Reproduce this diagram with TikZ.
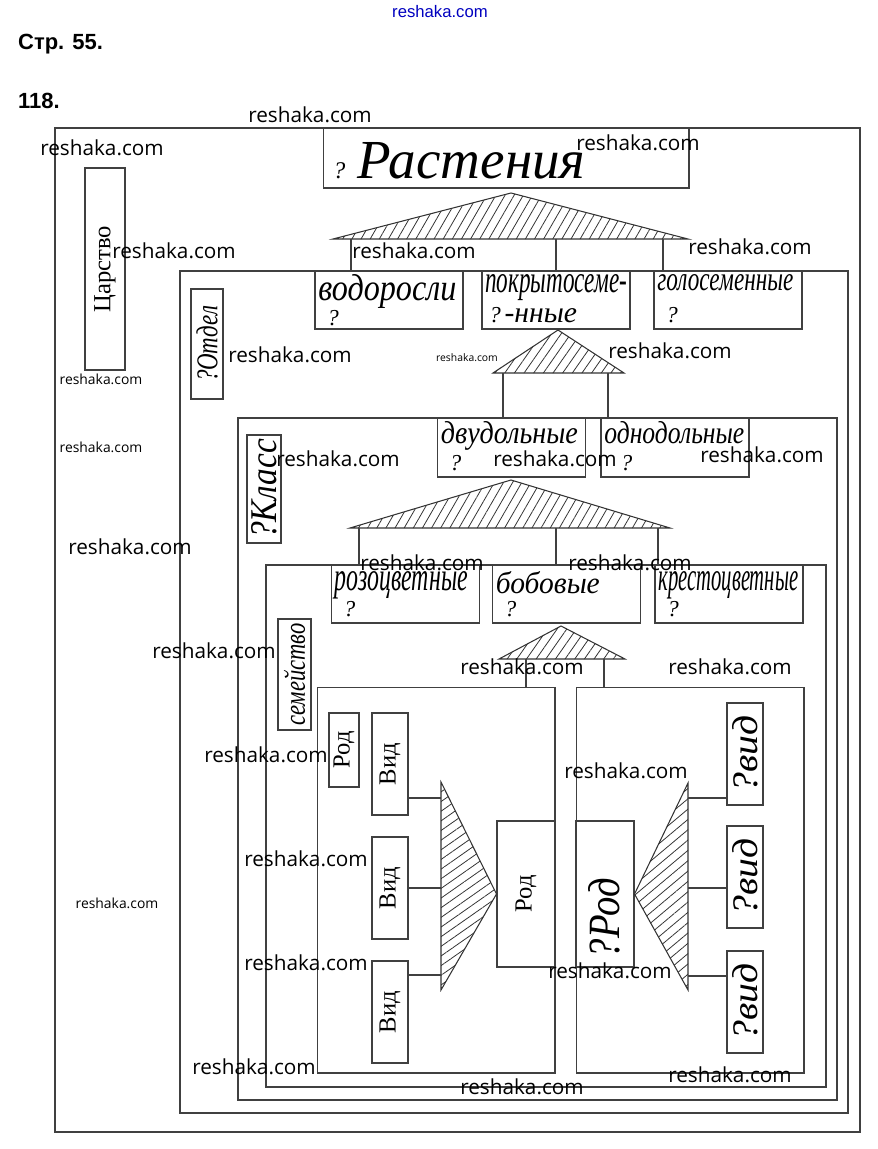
\documentclass[tikz,border=0pt]{standalone}
\usepackage{fontspec}
\usepackage{graphicx}
\setmainfont{Liberation Serif}
\newfontfamily\headfont{Liberation Sans}
\newfontfamily\wmfont{Open Sans}
\usetikzlibrary{patterns.meta}

\newcommand{\hw}[2]{\resizebox{#1cm}{!}{\itshape #2}}
\newcommand{\hwh}[3]{\resizebox{#1cm}{#2cm}{\itshape #3}}

\tikzset{
    frame/.style={draw=black!75, line width=0.6pt},
    box/.style={draw=black!75, line width=0.6pt, inner sep=0pt},
    taxon/.style={box, minimum width=2.96cm, minimum height=1.16cm},
    vidbox/.style={box, minimum width=0.72cm, minimum height=2.04cm, font=\fontsize{14}{14}\selectfont},
    hatch/.style={draw=black!80, line width=0.6pt, pattern color=black!80,
        pattern={Lines[angle=#1, distance=4.5pt, line width=0.45pt]}},
    hand/.style={anchor=north west, inner sep=2pt},
    q/.style={anchor=south west, inner sep=0pt, xshift=0.25cm, yshift=0.12cm,
        font=\itshape\fontsize{13}{13}\selectfont},
    head/.style={anchor=west, font=\headfont\bfseries\fontsize{12.5}{13}\selectfont},
    wm/.style={font=\wmfont\fontsize{11.8}{12}\selectfont},
    wms/.style={font=\wmfont\fontsize{7.9}{8}\selectfont}
}

\begin{document}
\begin{tikzpicture}[x=0.02cm, y=-0.02cm]
    \useasboundingbox (0,0) rectangle (877,1149);

    % header
    \node[head] (page) at (12,44) {Стр. 55.};
    \node[head] (task) at (12,101) {118.};

    % nested frames: kingdom, division, class, family
    \draw[frame] (55,128) rectangle (860,1132);
    \draw[frame] (180,271) rectangle (848,1113);
    \draw[frame] (238,418) rectangle (837,1100);
    \draw[frame] (266,565) rectangle (826,1087);

    % rank labels
    \node[box, minimum width=0.8cm, minimum height=4.04cm] (tsar) at (105,269)
        {\rotatebox{90}{\fontsize{14}{14}\selectfont Царство}};
    \node[box, minimum width=0.64cm, minimum height=2.2cm] (otdel) at (207,344)
        {\rotatebox{90}{\hwh{1.52}{0.42}{?Отдел}}};
    \node[box, minimum width=0.68cm, minimum height=2.16cm] (klass) at (264,489)
        {\rotatebox{90}{\hwh{2.0}{0.5}{?Класс}}};
    \node[box, minimum width=0.66cm, minimum height=2.22cm] (sem) at (294.5,674.5)
        {\rotatebox{90}{\hwh{2.04}{0.42}{семейство}}};

    % kingdom
    \node[box, minimum width=7.32cm, minimum height=1.2cm] (ras) at (506,158) {};
    \node[anchor=west, inner sep=0pt] (ras-t) at (333,161) {\hw{0.24}{?}\hspace{0.24cm}\hw{4.56}{Растения}};

    % divisions
    \draw[hatch=60] (333,239) -- (511,193) -- (688,239) -- cycle;
    \node[taxon, label={[hand]north west:\hwh{2.76}{0.52}{водоросли}}, label={[q, yshift=-0.06cm]south west:?}] (vod) at (389,300) {};
    \node[taxon, label={[hand]north west:\hwh{2.84}{0.36}{покрытосеме-}},
        label={[q, xshift=-0.1cm]south west:?\,\hw{1.45}{-нные}}] (pokr) at (556,300) {};
    \node[taxon, label={[hand]north west:\hwh{2.72}{0.32}{голосеменные}}, label={[q]south west:?}] (golo) at (728,300) {};
    \foreach \x/\n in {351/vod, 556/pokr, 663/golo} {
        \coordinate (d-\n) at (\x,239);
        \draw[frame] (d-\n) -- (d-\n |- \n.north);
    }

    % classes
    \draw[hatch=55] (493,373) -- (558,330) -- (624,373) -- cycle;
    \node[taxon, minimum height=1.18cm, label={[hand]north west:\hwh{2.74}{0.44}{двудольные}}, label={[q]south west:?}] (dvu) at (511.5,447.5) {};
    \node[taxon, minimum height=1.18cm, label={[hand]north west:\hwh{2.8}{0.44}{однодольные}}, label={[q, xshift=0.15cm]south west:?}] (odno) at (675,447.5) {};
    \foreach \x/\n in {503/dvu, 608/odno} {
        \coordinate (c-\n) at (\x,373);
        \draw[frame] (c-\n) -- (c-\n |- \n.north);
    }

    % families
    \draw[hatch=60] (350,528) -- (511,480) -- (670,528) -- cycle;
    \node[taxon, label={[hand, yshift=-0.06cm]north west:\hwh{2.66}{0.38}{розоцветные}}, label={[q]south west:?}] (roz) at (405.5,594) {};
    \node[taxon, label={[hand, yshift=-0.06cm]north west:\hwh{2.08}{0.44}{бобовые}}, label={[q]south west:?}] (bob) at (566.5,594) {};
    \node[taxon, label={[hand, yshift=-0.06cm]north west:\hwh{2.8}{0.38}{крестоцветные}}, label={[q]south west:?}] (kres) at (729,594) {};
    \foreach \x/\n in {359/roz, 556/bob, 658/kres} {
        \coordinate (f-\n) at (\x,528);
        \draw[frame] (f-\n) -- (f-\n |- \n.north);
    }

    % genera
    \draw[hatch=55] (499,659) -- (561,626) -- (625,659) -- cycle;
    \node[box, minimum width=4.76cm, minimum height=7.72cm] (gl) at (436,880) {};
    \node[box, minimum width=4.56cm, minimum height=7.72cm] (gr) at (690,880) {};
    \foreach \x/\n in {526/gl, 604/gr} {
        \coordinate (g-\n) at (\x,659);
        \draw[frame] (g-\n) -- (g-\n |- \n.north);
    }

    % left genus: species -> genus
    \node[box, minimum width=0.6cm, minimum height=1.48cm, font=\fontsize{14}{14}\selectfont] (rod1) at (344,750) {\rotatebox{90}{Род}};
    \foreach \y [count=\i] in {764,888,1012}
        \node[vidbox] (vid\i) at (390,\y) {\rotatebox{90}{Вид}};
    \node[box, minimum width=1.16cm, minimum height=2.92cm, font=\fontsize{14}{14}\selectfont] (rod2) at (526,894) {\rotatebox{90}{Род}};
    \draw[hatch=35] (441,782) -- (441,990) -- (rod2.west) -- cycle;
    \foreach \y [count=\i] in {798,888,975} {
        \coordinate (bl\i) at (441,\y);
        \draw[frame] (vid\i.east |- bl\i) -- (bl\i);
    }

    % right genus: genus -> species
    \node[box, minimum width=1.16cm, minimum height=2.92cm] (rod3) at (605,894) {};
    \node[inner sep=0pt] (rod3-t) at (604,918) {\rotatebox{90}{\hwh{1.6}{0.62}{?Род}}};
    \draw[hatch=40] (688,783) -- (688,990) -- (rod3.east) -- cycle;
    \foreach \y [count=\i] in {754,877,1002}
        \node[vidbox] (wid\i) at (745,\y) {\rotatebox{90}{\hwh{1.54}{0.5}{?вид}}};
    \foreach \y [count=\i] in {798,888,976} {
        \coordinate (br\i) at (688,\y);
        \draw[frame] (br\i) -- (br\i -| wid\i.west);
    }

    % watermarks
    \node[font=\headfont\fontsize{9.5}{10}\selectfont, text=blue!75!black] (wm0) at (440,12) {reshaka.com};
    \foreach \x/\y [count=\i] in {310/115, 102/148, 638/143, 174/251, 414/251, 750/247, 290/355,
        670/351, 338/459, 555/459, 762/455, 130/547, 422/563, 630/563, 214/651, 522/667,
        730/667, 266/755, 626/771, 306/859, 306/963, 610/971, 254/1067, 522/1087, 730/1075}
        \node[wm] (wm\i) at (\x,\y) {reshaka.com};
    \foreach \x/\y [count=\i] in {101/379, 101/447, 117/903}
        \node[wms] (wms\i) at (\x,\y) {reshaka.com};
    \node[font=\wmfont\fontsize{5.9}{6}\selectfont] (wmt) at (467,358) {reshaka.com};
\end{tikzpicture}
\end{document}
